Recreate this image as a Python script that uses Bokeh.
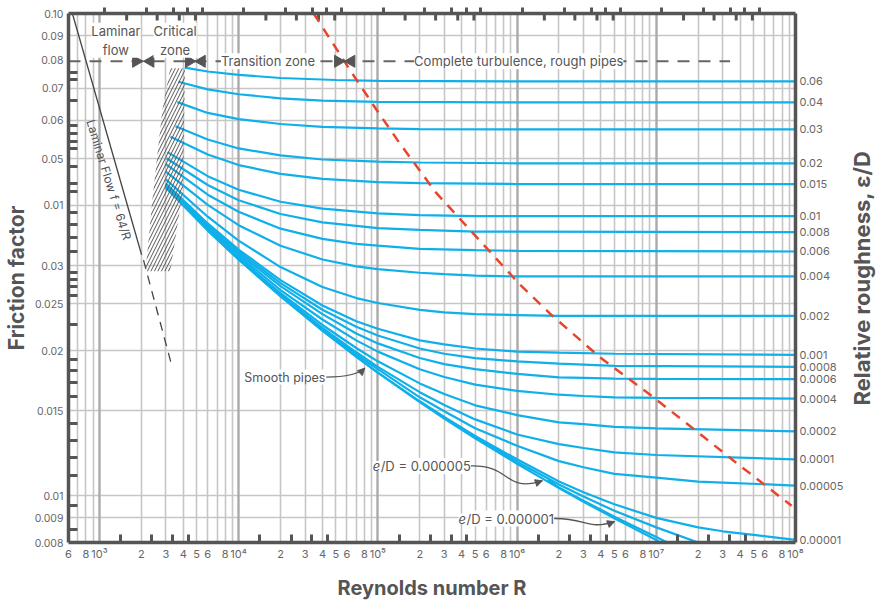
import math
from bokeh.plotting import figure
from bokeh.layouts import row
from bokeh.models import LogAxis, FixedTicker, Label, Arrow, NormalHead, Grid, Range1d, Title
from bokeh.embed import file_html
from bokeh.resources import INLINE

# ---------------- data ----------------
re_r006 = [4100, 6000, 1e4, 2e4, 5e4, 1e5, 1e6, 1e8]
f_r006 = [0.0772, 0.0758, 0.0746, 0.0735, 0.0728, 0.0725, 0.0723, 0.0723]
re_r004 = [3690, 6000, 1e4, 2e4, 4e4, 1e5, 1e6, 1e8]
f_r004 = [0.0722, 0.0696, 0.0680, 0.0667, 0.0660, 0.0656, 0.0654, 0.0654]
re_r003 = [3630, 6000, 1e4, 2e4, 4e4, 1e5, 2e5, 1e6, 1e8]
f_r003 = [0.0655, 0.0622, 0.0604, 0.0590, 0.0582, 0.0578, 0.0576, 0.0575, 0.0575]
re_r002 = [3520, 6000, 1e4, 2e4, 4e4, 1e5, 2e5, 1e6, 1e8]
f_r002 = [0.0584, 0.0548, 0.0525, 0.0508, 0.0498, 0.0493, 0.0491, 0.0489, 0.0489]
re_r0015 = [3240, 6000, 1e4, 2e4, 4e4, 1e5, 2e5, 1e6, 1e8]
f_r0015 = [0.0555, 0.0510, 0.0485, 0.0465, 0.0454, 0.0447, 0.0445, 0.0443, 0.0443]
re_r001 = [3080, 6000, 1e4, 2e4, 4e4, 1e5, 2e5, 5e5, 1e6, 1e8]
f_r001 = [0.0516, 0.0460, 0.0431, 0.0407, 0.0394, 0.0385, 0.0382, 0.0380, 0.0380, 0.0380]
re_r0008 = [3030, 6000, 1e4, 2e4, 4e4, 1e5, 2e5, 5e5, 1e6, 1e8]
f_r0008 = [0.0501, 0.0441, 0.0410, 0.0384, 0.0369, 0.0359, 0.0356, 0.0353, 0.0353, 0.0352]
re_r0006 = [3000, 6000, 1e4, 2e4, 4e4, 7e4, 1e5, 2e5, 5e5, 1e6, 1e8]
f_r0006 = [0.0487, 0.0421, 0.0388, 0.0358, 0.0341, 0.0333, 0.0330, 0.0325, 0.0323, 0.0322, 0.0321]
re_r0004 = [3000, 6000, 1e4, 2e4, 4e4, 7e4, 1e5, 2e5, 3e5, 5e5, 1e6, 1e8]
f_r0004 = [0.0470, 0.0401, 0.0364, 0.0330, 0.0309, 0.0299, 0.0295, 0.0290, 0.0288, 0.0286, 0.0285, 0.0285]
re_r0002 = [3000, 6000, 1e4, 2e4, 4e4, 7e4, 1e5, 2e5, 3e5, 5e5, 1e6, 2e6, 1e8]
f_r0002 = [0.0453, 0.0379, 0.0338, 0.0298, 0.0271, 0.0257, 0.0251, 0.0243, 0.0240, 0.0238, 0.0237, 0.0236, 0.0236]
re_r0001 = [3000, 6000, 1e4, 2e4, 4e4, 7e4, 1e5, 2e5, 3e5, 5e5, 1e6, 2e6, 5e6, 1e8]
f_r0001 = [0.0444, 0.0367, 0.0324, 0.0280, 0.0248, 0.0230, 0.0222, 0.0210, 0.0206, 0.0202, 0.0199, 0.0198, 0.0197, 0.0196]
re_r00008 = [3000, 6000, 1e4, 2e4, 4e4, 7e4, 1e5, 2e5, 3e5, 5e5, 1e6, 2e6, 5e6, 1e8]
f_r00008 = [0.0443, 0.0365, 0.0321, 0.0276, 0.0243, 0.0224, 0.0215, 0.0202, 0.0197, 0.0193, 0.0190, 0.0188, 0.0186, 0.0185]
re_r00006 = [3000, 6000, 1e4, 2e4, 4e4, 7e4, 1e5, 2e5, 3e5, 5e5, 1e6, 2e6, 3e6, 5e6, 1e7, 1e8]
f_r00006 = [0.0441, 0.0362, 0.0318, 0.0272, 0.0238, 0.0217, 0.0207, 0.0193, 0.01875, 0.0183, 0.0179, 0.0176,
            0.01756, 0.0175, 0.01747, 0.01745]
re_r00004 = [3000, 6000, 1e4, 2e4, 4e4, 7e4, 1e5, 2e5, 3e5, 5e5, 1e6, 2e6, 3e6, 5e6, 1e7, 1e8]
f_r00004 = [0.0439, 0.0360, 0.0315, 0.0267, 0.0232, 0.0210, 0.0199, 0.0183, 0.01763, 0.0170, 0.0165, 0.0162,
            0.0161, 0.0160, 0.01596, 0.0159]
re_r00002 = [3000, 6000, 1e4, 2e4, 4e4, 7e4, 1e5, 2e5, 3e5, 5e5, 1e6, 2e6, 3e6, 5e6, 1e7, 1e8]
f_r00002 = [0.0437, 0.0358, 0.0312, 0.0263, 0.0226, 0.02025, 0.0190, 0.0171, 0.01625, 0.0154, 0.0147, 0.0142,
            0.01408, 0.0139, 0.0138, 0.0136]
re_r00001 = [3000, 6000, 1e4, 2e4, 4e4, 7e4, 1e5, 2e5, 3e5, 5e5, 1e6, 2e6, 3e6, 5e6, 1e7, 1e8]
f_r00001 = [0.0436, 0.0356, 0.0310, 0.0261, 0.0223, 0.01984, 0.0185, 0.0164, 0.01543, 0.0144, 0.0134, 0.0128,
            0.01256, 0.0123, 0.01215, 0.0119]
re_r000005 = [6000, 1e4, 2e4, 4e4, 7e4, 1e5, 2e5, 3e5, 5e5, 1e6, 2e6, 3e6, 5e6, 1e7, 2e7, 3e7, 1e8]
f_r000005 = [0.0355, 0.0309, 0.0260, 0.0221, 0.01963, 0.0183, 0.0160, 0.01497, 0.0138, 0.0127, 0.0118, 0.01146,
             0.0111, 0.0109, 0.0107, 0.01065, 0.0105]
re_r000001 = [1.5e4, 4e4, 7e4, 1e5, 2e5, 3e5, 5e5, 1e6, 2e6, 3e6, 5e6, 1e7, 2e7, 3e7, 5e7, 1e8]
f_r000001 = [0.0279, 0.0220, 0.01945, 0.0180, 0.0157, 0.01457, 0.0133, 0.0119, 0.0107, 0.01017, 0.0096, 0.0090,
             0.0086, 0.00844, 0.0083, 0.0081]
re_e5e6 = [4.7e5, 1e6, 2e6, 3e6, 5e6, 1e7, 2e7]
f_e5e6 = [0.0134, 0.01176, 0.01055, 0.00996, 0.00931, 0.0086, 0.0080]
re_e1e6 = [1.66e6, 2e6, 3e6, 5e6, 1e7, 1.2e7]
f_e1e6 = [0.0108, 0.0104, 0.00977, 0.00905, 0.00821, 0.0080]
re_smooth = [3000, 6000, 1e4, 2e4, 4e4, 7e4, 1e5, 2e5, 3e5, 5e5, 1e6, 2e6, 3e6, 5e6, 1e7, 1.07e7]
f_smooth = [0.0435, 0.0355, 0.0309, 0.0259, 0.0220, 0.01941, 0.0180, 0.01564, 0.01446, 0.01316, 0.01165, 0.01037,
            0.00972, 0.00898, 0.0081, 0.0080]

roughness_labels = ["0.06", "0.04", "0.03", "0.02", "0.015", "0.01", "0.008", "0.006", "0.004",
                    "0.002", "0.001", "0.0008", "0.0006", "0.0004", "0.0002", "0.0001", "0.00005", "0.00001"]

laminar_re = [640, 2010]
laminar_f = [0.1, 0.0316]
laminar_ext_re = [2075, 3330]
laminar_ext_f = [0.0308, 0.0185]

red_re = [34600, 63200, 98400, 143000, 262000, 1.05e6, 1.74e6, 3.94e6, 9.53e6, 2.15e7, 3.69e7, 9.38e7]
red_f = [0.1, 0.0763, 0.0630, 0.0539, 0.0425, 0.0274, 0.0238, 0.01937, 0.01601, 0.0133, 0.01175, 0.00953]

crit_re = [3225, 4120, 3988, 3225, 2145, 2404, 2830]
crit_f = [0.0770, 0.0770, 0.0431, 0.0292, 0.0292, 0.0411, 0.0630]

zone_f = 0.0796
zone_line_re = [600, 3.39e7]
zone_arrow_re = [1835, 2326, 4399, 5440, 51800, 64570]
zone_arrow_dir = ["r", "l", "r", "l", "r", "l"]

y_label_vals = [0.1, 0.09, 0.08, 0.07, 0.06, 0.05, 0.04, 0.03, 0.025, 0.02, 0.015, 0.01, 0.009, 0.008]
y_label_txt = ["0.10", "0.09", "0.08", "0.07", "0.06", "0.05", "0.01", "0.03", "0.025", "0.02",
               "0.015", "0.01", "0.009", "0.008"]
y_grid_vals = [0.09, 0.07, 0.06, 0.05, 0.04, 0.03, 0.025, 0.02, 0.015, 0.01, 0.009]
y_marks = [0.0755, 0.0731, 0.0661, 0.0587, 0.0565, 0.0544, 0.0524, 0.0481, 0.0445, 0.0427, 0.0386,
           0.0365, 0.0343, 0.0321, 0.0290, 0.0281, 0.0272, 0.0260, 0.0227, 0.0192, 0.0182, 0.0172,
           0.0161, 0.0141, 0.0130, 0.0120, 0.0110, 0.00953, 0.00851]
x_decades = [1e2, 1e3, 1e4, 1e5, 1e6, 1e7, 1e8]
x_decade_txt = ["10²", "10³", "10⁴", "10⁵", "10⁶", "10⁷", "10⁸"]
x_label_mant = [2, 3, 4, 5, 6, 8]
x_bottom_mark_mant = [1.42, 2.38, 3.36, 4.36]
x_top_up_mant = [1.09, 2.18, 3.4, 4.3, 5.5]
x_top_down_mant = [1.57, 2.6, 3.75, 4.9]

X0, X1 = 600, 1e8
Y0, Y1 = 0.008, 0.1

BLUE = "#0fb0ea"
GREY = "#555555"
FONT = "Inter"
H = 602
TOP_B, BOT_B = 13, 58

p = figure(width=846, height=H, x_axis_type="log", y_axis_type="log",
           x_range=Range1d(X0, X1), y_range=Range1d(Y0, Y1),
           output_backend="svg", toolbar_location=None,
           min_border_left=65, min_border_right=45, min_border_top=TOP_B, min_border_bottom=BOT_B)
p.outline_line_color = None
p.background_fill_color = "white"


def inside(v):
    return X0 * 0.999 <= v <= X1 * 1.001


x_grid_vals = [m * d for d in x_decades for m in range(1, 10) if inside(m * d)]
p.xgrid.ticker = FixedTicker(ticks=x_grid_vals)
p.xgrid.grid_line_color = "#c6c6c6"
p.xgrid.grid_line_width = 1.6
p.ygrid.ticker = FixedTicker(ticks=y_grid_vals)
p.ygrid.grid_line_color = "#c6c6c6"
p.ygrid.grid_line_width = 1.6
p.add_layout(Grid(dimension=0, ticker=FixedTicker(ticks=[d for d in x_decades if inside(d)]),
                  grid_line_color="#a9a9a9", grid_line_width=2.2))


def style_axis(ax, size="11px", title_size="20px"):
    ax.axis_line_color = GREY
    ax.axis_line_width = 3.5
    ax.major_tick_line_color = GREY
    ax.major_tick_line_width = 3
    ax.minor_tick_line_color = GREY
    ax.minor_tick_line_width = 3
    ax.major_label_text_font = FONT
    ax.major_label_text_color = "#666666"
    ax.major_label_text_font_size = size
    ax.axis_label_text_font = FONT
    ax.axis_label_text_font_style = "bold"
    ax.axis_label_text_color = GREY
    ax.axis_label_text_font_size = title_size


# left axis
yax = p.yaxis[0]
style_axis(yax, "10.5px", "21px")
yax.ticker = FixedTicker(ticks=y_label_vals, minor_ticks=y_marks)
yax.major_label_overrides = {v: t for v, t in zip(y_label_vals, y_label_txt)}
yax.major_tick_in = 0
yax.major_tick_out = 0
yax.minor_tick_in = 9
yax.minor_tick_out = 0
yax.major_label_standoff = 5
yax.axis_label = "Friction factor"
yax.axis_label_standoff = 3

# bottom axis
x_label_vals, x_label_txt = [], []
for d, dt in zip(x_decades, x_decade_txt):
    if inside(d):
        x_label_vals.append(d)
        x_label_txt.append(dt)
    for m in x_label_mant:
        if inside(m * d):
            x_label_vals.append(m * d)
            x_label_txt.append(str(m))
xax = p.xaxis[0]
style_axis(xax)
xax.ticker = FixedTicker(ticks=x_label_vals,
                         minor_ticks=[m * d for d in x_decades for m in x_bottom_mark_mant if inside(m * d)])
xax.major_label_overrides = {v: t for v, t in zip(x_label_vals, x_label_txt)}
xax.major_tick_in = 0
xax.major_tick_out = 0
xax.minor_tick_in = 8
xax.minor_tick_out = 0
xax.major_label_standoff = 4
xax.axis_label = "Reynolds number R"
xax.axis_label_standoff = 12

# top axis: outward decorative ticks (no labels)
top_up = [m * d for d in x_decades for m in x_top_up_mant if inside(m * d)]
top_down = [m * d for d in x_decades for m in x_top_down_mant if inside(m * d)]
top = LogAxis(ticker=FixedTicker(ticks=[], minor_ticks=top_up))
style_axis(top)
top.minor_tick_out = 6
top.minor_tick_in = 0
p.add_layout(top, "above")
p.segment(x0=top_down, y0=[Y1] * len(top_down), x1=top_down, y1=[Y1 * 0.967] * len(top_down),
          line_color=GREY, line_width=3)

# curves
curves = [(re_r006, f_r006), (re_r004, f_r004), (re_r003, f_r003), (re_r002, f_r002),
          (re_r0015, f_r0015), (re_r001, f_r001), (re_r0008, f_r0008), (re_r0006, f_r0006),
          (re_r0004, f_r0004), (re_r0002, f_r0002), (re_r0001, f_r0001), (re_r00008, f_r00008),
          (re_r00006, f_r00006), (re_r00004, f_r00004), (re_r00002, f_r00002), (re_r00001, f_r00001),
          (re_r000005, f_r000005), (re_r000001, f_r000001)]
extra_curves = [(re_e5e6, f_e5e6), (re_e1e6, f_e1e6), (re_smooth, f_smooth)]
for r, f in curves + extra_curves:
    p.line(r, f, line_color=BLUE, line_width=2.2)

# right axis: roughness labels at curve ends
end_vals = [f[-1] for _, f in curves]
rax = LogAxis(ticker=FixedTicker(ticks=end_vals))
style_axis(rax, "11px")
rax.major_label_overrides = {v: t for v, t in zip(end_vals, roughness_labels)}
rax.major_tick_in = 0
rax.major_tick_out = 0
rax.major_label_standoff = 4
p.add_layout(rax, "right")

# critical zone hatch
p.patch(crit_re, crit_f, fill_color=None, line_color=None,
        hatch_pattern="/", hatch_color="#555555", hatch_scale=7, hatch_weight=1.0)

# laminar line
p.line(laminar_re, laminar_f, line_color="#444444", line_width=1.3)
p.line(laminar_ext_re, laminar_ext_f, line_color="#444444", line_width=1.3, line_dash="9 7")

# complete-turbulence boundary
p.line(red_re, red_f, line_color="#e8452c", line_width=2.5, line_dash="10 8")

# zone marker line + arrows
p.line(zone_line_re, [zone_f, zone_f], line_color="#666666", line_width=2, line_dash="12 9")
angles = [-math.pi / 2 if d == "r" else math.pi / 2 for d in zone_arrow_dir]
p.scatter(zone_arrow_re, [zone_f] * len(zone_arrow_re), marker="triangle", size=12,
          angle=angles, fill_color=GREY, line_color=GREY)


def lab(x, y, text, size="13px", align="center", baseline="middle", bg="white", style="normal",
        color="#555555", **kw):
    p.add_layout(Label(x=x, y=y, text=text, text_font=FONT, text_font_size=size, text_color=color,
                       text_align=align, text_baseline=baseline, background_fill_color=bg,
                       text_font_style=style, **kw))


lab(1314, 0.0880, "Laminar\nflow")
lab(3501, 0.0880, "Critical\nzone")
lab(16250, zone_f, "Transition zone")
lab(1.028e6, zone_f, "Complete turbulence, rough pipes")
lab(1172, 0.0452, "Laminar Flow f = 64/R", size="12px", bg=None, angle=-1.27)

lab(1.098e4, 0.01762, "Smooth pipes", size="12.5px", align="left")
p.bezier(x0=[4.26e4], y0=[0.01762], x1=[8.05e4], y1=[0.01839], cx0=[5.81e4], cy0=[0.01762],
         cx1=[7.18e4], cy1=[0.01778], line_color=GREY, line_width=1.3)
p.add_layout(Arrow(end=NormalHead(size=7, fill_color=GREY, line_color=GREY), line_alpha=0,
                   x_start=7.18e4, y_start=0.01778, x_end=8.05e4, y_end=0.01839))

lab(9.18e4, 0.01153, "e", size="13px", align="left", style="italic")
lab(9.18e4, 0.01153, "/D = 0.000005", size="13px", align="left", x_offset=8)
p.bezier(x0=[4.62e5], y0=[0.01153], x1=[1.52e6], y1=[0.01074], cx0=[9.33e5], cy0=[0.01159],
         cx1=[7.92e5], cy1=[0.01014], line_color=GREY, line_width=1.3)
p.add_layout(Arrow(end=NormalHead(size=7, fill_color=GREY, line_color=GREY), line_alpha=0,
                   x_start=1.1e6, y_start=0.01040, x_end=1.52e6, y_end=0.01074))

lab(3.80e5, 0.00897, "e", size="13px", align="left", style="italic")
lab(3.80e5, 0.00897, "/D = 0.000001", size="13px", align="left", x_offset=8)
p.bezier(x0=[1.79e6], y0=[0.00897], x1=[5.01e6], y1=[0.00884], cx0=[3.17e6], cy0=[0.00901],
         cx1=[3.17e6], cy1=[0.00847], line_color=GREY, line_width=1.3)
p.add_layout(Arrow(end=NormalHead(size=7, fill_color=GREY, line_color=GREY), line_alpha=0,
                   x_start=4.0e6, y_start=0.00862, x_end=5.01e6, y_end=0.00884))

# right-hand title panel (reads bottom-to-top, like the reference)
p2 = figure(width=32, height=H, toolbar_location=None, output_backend="svg",
            min_border_left=0, min_border_right=0, min_border_top=TOP_B, min_border_bottom=BOT_B)
p2.axis.visible = False
p2.grid.visible = False
p2.outline_line_color = None
p2.add_layout(Title(text="Relative roughness, ε/D", align="center", text_font=FONT, text_font_size="22px",
                    text_font_style="bold", text_color=GREY, standoff=0), "left")

open("out.html", "w").write(file_html(row(p, p2), INLINE))
